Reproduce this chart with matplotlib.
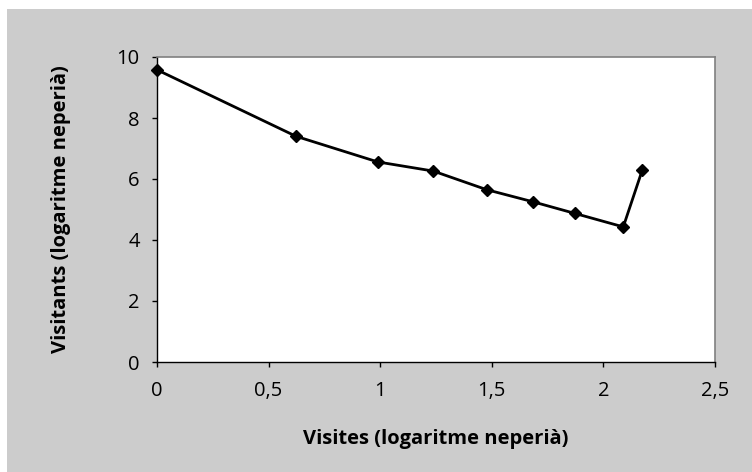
import matplotlib.pyplot as plt
from matplotlib.patches import Rectangle

# Visits vs visitors, both on natural log scale
visites = [0.0, 0.623, 0.989, 1.238, 1.477, 1.686, 1.873, 2.089, 2.174]
visitants = [9.58, 7.40, 6.56, 6.26, 5.65, 5.25, 4.87, 4.43, 6.29]

x_ticks = [0, 0.5, 1, 1.5, 2, 2.5]
x_tick_labels = ["0", "0,5", "1", "1,5", "2", "2,5"]
y_ticks = [0, 2, 4, 6, 8, 10]

plt.rcParams['font.family'] = ['Open Sans', 'DejaVu Sans']

fig = plt.figure(figsize=(7.52, 4.72), dpi=100)
fig.patch.set_facecolor("white")
# grey chart area behind the plot
fig.patches.append(Rectangle((7 / 752, 0), 1, 1 - 9 / 472, transform=fig.transFigure,
                             facecolor="#cccccc", edgecolor="none", zorder=-10))

ax = fig.add_axes([157 / 752, 1 - 362 / 472, 558 / 752, 305 / 472])
ax.set_facecolor("white")

ax.plot(visites, visitants, color="black", linewidth=2.0,
        marker="D", markersize=6.3, markerfacecolor="black",
        markeredgecolor="black", clip_on=False, zorder=3)

ax.set_xlim(0, 2.5)
ax.set_ylim(0, 10)
ax.set_xticks(x_ticks)
ax.set_xticklabels(x_tick_labels)
ax.set_yticks(y_ticks)

for side in ["top", "right"]:
    ax.spines[side].set_color("#808080")
    ax.spines[side].set_linewidth(1.2)
for side in ["left", "bottom"]:
    ax.spines[side].set_color("black")
    ax.spines[side].set_linewidth(1.0)

ax.tick_params(axis="both", direction="out", length=3.5, width=1, labelsize=14.5,
               colors="black")
ax.tick_params(axis="x", pad=10)
ax.tick_params(axis="y", pad=9)

ax.set_xlabel("Visites (logaritme neperià)", fontsize=14.5, fontweight="bold", labelpad=20)
ax.set_ylabel("Visitants (logaritme neperià)", fontsize=14.5, fontweight="bold", labelpad=33)

fig.savefig("out.png", dpi=100)
